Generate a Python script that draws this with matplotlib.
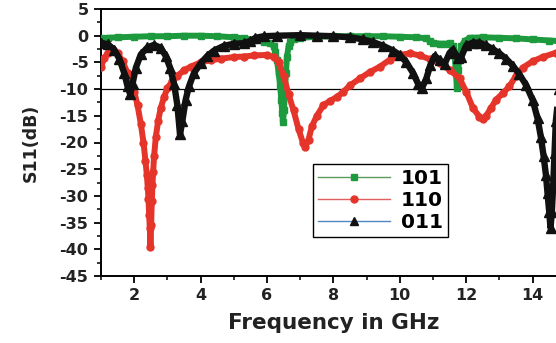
import matplotlib
matplotlib.use("Agg")
import matplotlib.pyplot as plt
import numpy as np
from matplotlib.lines import Line2D
from matplotlib.ticker import MultipleLocator

plt.rcParams['font.family'] = ['DejaVu Sans']
plt.rcParams['axes.unicode_minus'] = False

# S11 curves (GHz, dB)
f_101 = [1.0, 1.2, 1.5, 2.0, 2.5, 3.0, 3.5, 4.0, 4.5, 5.0, 5.3, 5.6, 5.9, 6.1, 6.2, 6.25,
         6.3, 6.35, 6.4, 6.43, 6.46, 6.48, 6.51, 6.54, 6.57, 6.6, 6.65, 6.7, 6.8, 7.0, 7.5,
         8.0, 8.5, 9.0, 9.5, 10.0, 10.5, 10.8, 10.9, 11.0, 11.2, 11.4, 11.5, 11.6, 11.65,
         11.68, 11.72, 11.76, 11.8, 11.85, 11.95, 12.1, 12.5, 13.0, 13.5, 14.0, 14.5, 15.0]
s_101 = [-0.5, -0.4, -0.3, -0.2, -0.1, -0.1, 0.0, 0.0, -0.1, -0.3, -0.5, -0.8, -1.1, -1.4,
         -2.0, -3.0, -4.5, -7.0, -9.5, -12.0, -14.5, -16.2, -14.0, -10.5, -7.0, -4.0, -2.0,
         -1.2, -0.7, -0.4, -0.2, -0.1, -0.1, -0.1, -0.1, -0.2, -0.3, -0.5, -1.0, -1.3, -1.5,
         -1.5, -1.4, -2.0, -3.5, -6.0, -9.8, -6.5, -3.5, -2.0, -1.0, -0.4, -0.3, -0.4, -0.5,
         -0.7, -0.9, -1.1]

f_110 = [1.0, 1.1, 1.2, 1.35, 1.5, 1.65, 1.8, 1.9, 2.0, 2.1, 2.2, 2.28, 2.34, 2.38, 2.41,
         2.43, 2.45, 2.47, 2.49, 2.51, 2.53, 2.55, 2.57, 2.6, 2.65, 2.72, 2.8, 2.9, 3.0, 3.15,
         3.3, 3.5, 3.7, 4.0, 4.3, 4.6, 5.0, 5.3, 5.6, 6.0, 6.2, 6.35, 6.5, 6.65, 6.8, 6.95,
         7.08, 7.15, 7.25, 7.35, 7.5, 7.7, 7.9, 8.1, 8.3, 8.5, 8.8, 9.1, 9.4, 9.7, 10.0, 10.3,
         10.6, 10.9, 11.2, 11.5, 11.8, 12.0, 12.2, 12.4, 12.5, 12.6, 12.75, 12.9, 13.1, 13.3,
         13.5, 13.7, 14.0, 14.3, 14.7, 15.0]
s_110 = [-5.8, -4.2, -3.2, -2.8, -3.3, -4.8, -7.0, -8.5, -10.5, -13.0, -16.5, -20.0, -23.5,
         -26.0, -28.5, -30.5, -33.5, -36.0, -39.5, -35.5, -31.0, -28.0, -25.5, -22.5, -19.0,
         -16.0, -13.5, -11.5, -9.8, -8.5, -7.5, -6.5, -5.8, -5.0, -4.6, -4.3, -4.0, -3.9,
         -3.7, -3.6, -4.0, -5.0, -7.5, -11.0, -14.0, -17.5, -20.0, -20.8, -19.5, -17.0, -15.0,
         -13.0, -12.2, -11.5, -10.5, -9.3, -8.0, -6.8, -5.8, -4.5, -3.6, -3.3, -3.7, -4.4,
         -5.2, -6.4, -8.0, -10.5, -13.5, -15.2, -15.6, -15.0, -13.5, -12.0, -10.8, -9.5,
         -7.5, -6.0, -4.8, -4.0, -3.2, -2.8]

f_011 = [1.0, 1.2, 1.4, 1.55, 1.7, 1.8, 1.88, 1.95, 2.05, 2.2, 2.4, 2.6, 2.8, 2.95, 3.08,
         3.2, 3.3, 3.38, 3.45, 3.55, 3.65, 3.8, 4.0, 4.2, 4.4, 4.7, 5.0, 5.3, 5.5, 5.65, 5.9,
         6.3, 7.0, 7.5, 8.0, 8.5, 8.9, 9.2, 9.5, 9.8, 10.0, 10.2, 10.4, 10.55, 10.67, 10.8,
         10.92, 11.05, 11.2, 11.35, 11.5, 11.6, 11.75, 11.85, 12.0, 12.2, 12.4, 12.6, 12.8,
         13.0, 13.2, 13.4, 13.6, 13.8, 14.0, 14.15, 14.25, 14.33, 14.4, 14.45, 14.5, 14.54,
         14.58, 14.62, 14.66, 14.7, 14.8, 15.0]
s_011 = [-1.3, -1.6, -2.6, -4.3, -7.0, -9.5, -11.0, -9.0, -6.0, -3.5, -2.2, -1.7, -2.3,
         -3.8, -6.0, -9.0, -13.0, -18.5, -16.0, -12.0, -9.5, -7.0, -5.2, -3.8, -2.8, -1.9,
         -1.5, -1.4, -1.0, -0.4, -0.1, 0.0, 0.1, 0.0, -0.1, -0.3, -0.7, -1.2, -1.9, -2.8,
         -3.6, -5.0, -7.0, -9.0, -9.8, -8.0, -5.5, -3.8, -4.5, -5.3, -3.2, -2.6, -4.2, -4.0,
         -1.8, -1.3, -1.3, -1.8, -2.5, -3.3, -4.3, -5.6, -7.2, -9.2, -12.0, -15.5, -19.0,
         -22.5, -26.0, -29.5, -33.0, -36.0, -33.0, -28.0, -22.0, -16.0, -10.0, -5.0]

labels = ['101', '110', '011']
green = '#1e9a3e'
red = '#e5352b'

fig = plt.figure(figsize=(5.56, 3.43), dpi=100)
ax = fig.add_axes([101 / 556, 67 / 343, 464.8 / 556, 267 / 343])

ax.plot(f_101, s_101, color=green, lw=4.3, marker='s', ms=4.5, mec=green, zorder=3)
ax.plot(f_110, s_110, color=red, lw=4.3, marker='o', ms=5, mec=red, zorder=4)
ax.plot(f_011, s_011, color='#111111', lw=4.6, marker='^', ms=6.5, mfc='#111111',
        mec='#111111', zorder=5)
ax.axhline(-10, color='black', lw=0.9, zorder=2)

ax.set_xlim(1, 15)
ax.set_ylim(-45, 5)
ax.xaxis.set_major_locator(MultipleLocator(2))
ax.xaxis.set_minor_locator(MultipleLocator(1))
ax.yaxis.set_major_locator(MultipleLocator(5))
ax.yaxis.set_minor_locator(MultipleLocator(2.5))
ax.tick_params(which='major', direction='out', length=5, width=1.3, labelsize=11.5, pad=4)
ax.tick_params(which='minor', direction='out', length=3, width=1.1)
for lab in ax.get_xticklabels() + ax.get_yticklabels():
    lab.set_fontweight('bold')
    lab.set_color('#222222')
ax.spines['right'].set_visible(False)
for s in ['left', 'bottom', 'top']:
    ax.spines[s].set_linewidth(1.4)

ax.set_xlabel('Frequency in GHz', fontsize=15.5, fontweight='bold', color='#222222', labelpad=7)
ax.set_ylabel('S11(dB)', fontsize=12.5, fontweight='bold', color='#222222', labelpad=14)

handles = [
    Line2D([], [], color='#5a9a5a', lw=1, marker='s', ms=5, mfc=green, mec=green),
    Line2D([], [], color='#e06060', lw=1, marker='o', ms=5, mfc=red, mec=red),
    Line2D([], [], color='#4f86c6', lw=1, marker='^', ms=6, mfc='#111111', mec='#111111'),
]
leg = ax.legend(handles, labels, loc='upper left', bbox_to_anchor=(0.456, 0.419),
                borderaxespad=0, frameon=True, fancybox=False, framealpha=1,
                edgecolor='black', handlelength=3.6, handletextpad=0.5,
                labelspacing=0.15, borderpad=0.25, prop={'weight': 'bold', 'size': 14.5})
leg.get_frame().set_linewidth(1.0)
leg.set_zorder(6)

fig.savefig('out.png', dpi=100)
